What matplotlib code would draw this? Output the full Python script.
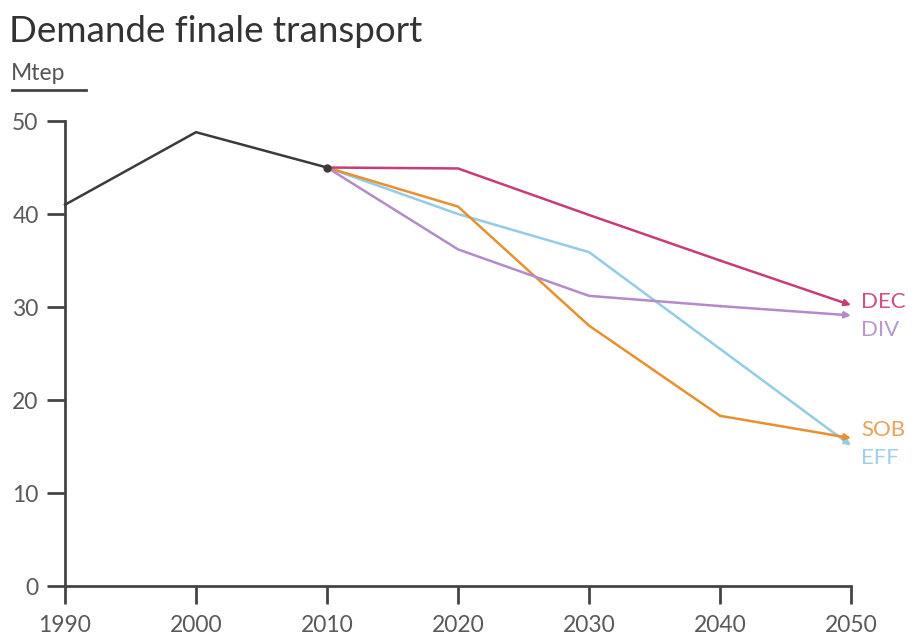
import matplotlib.pyplot as plt

# data (Mtep)
hist_years = [1990, 2000, 2010]
hist_values = [41.0, 48.8, 45.0]

proj_years = [2010, 2020, 2030, 2040, 2050]
scenarios = ['DEC', 'DIV', 'SOB', 'EFF']
dec = [45.0, 44.9, 39.9, 35.0, 30.2]
div = [45.0, 36.2, 31.2, 30.1, 29.1]
sob = [45.0, 40.8, 28.0, 18.3, 15.9]
eff = [45.0, 40.0, 35.9, 25.5, 15.1]

line_colors = {'DEC': '#c63d79', 'DIV': '#b48bc9', 'SOB': '#e8902f', 'EFF': '#93cce6'}
label_colors = {'DEC': '#cf4f86', 'DIV': '#b79acb', 'SOB': '#e9a25a', 'EFF': '#9fd0e6'}
label_offsets = {'DEC': 0.3, 'DIV': -1.6, 'SOB': 0.9, 'EFF': -1.3}

plt.rcParams['font.family'] = ['Lato', 'DejaVu Sans']

fig = plt.figure(figsize=(9.22, 6.41), dpi=100)
ax = fig.add_axes([0.0705, 0.0858, 0.8525, 0.7254])

ax.plot(hist_years, hist_values, color='#3b3b3b', lw=1.8, clip_on=False, zorder=3)

series = {'DEC': dec, 'DIV': div, 'SOB': sob, 'EFF': eff}
for name in ['EFF', 'SOB', 'DIV', 'DEC']:
    vals = series[name]
    c = line_colors[name]
    ax.plot(proj_years[:-1], vals[:-1], color=c, lw=1.8, clip_on=False, zorder=4)
    ax.annotate('', xy=(proj_years[-1], vals[-1]), xytext=(proj_years[-2], vals[-2]),
                arrowprops=dict(arrowstyle='-|>', color=c, lw=1.8, mutation_scale=9,
                                shrinkA=0, shrinkB=0), zorder=4)
    ax.text(2050.8, vals[-1] + label_offsets[name], name, color=label_colors[name],
            fontsize=16, va='center', ha='left')

ax.plot([2010], [45.0], 'o', color='#3b3b3b', ms=5, zorder=6, clip_on=False)

ax.set_xlim(1990, 2050)
ax.set_ylim(0, 50)
ax.set_xticks([1990, 2000, 2010, 2020, 2030, 2040, 2050])
ax.set_yticks([0, 10, 20, 30, 40, 50])

for s in ['top', 'right']:
    ax.spines[s].set_visible(False)
for s in ['left', 'bottom']:
    ax.spines[s].set_linewidth(2)
    ax.spines[s].set_color('#444444')
ax.tick_params(axis='both', length=13, width=2, color='#444444', labelcolor='#5a5a5a',
               labelsize=16.5)
ax.tick_params(axis='x', pad=8)
ax.tick_params(axis='y', pad=6)

fig.text(0.010, 0.951, 'Demande finale transport', fontsize=26.5, color='#333333',
         va='center', ha='left')
fig.text(0.012, 0.886, 'Mtep', fontsize=16.5, color='#555555', va='center', ha='left')
fig.add_artist(plt.Line2D([0.013, 0.093], [0.859, 0.859], color='#444444', lw=2))

fig.savefig('out.png', dpi=100)
